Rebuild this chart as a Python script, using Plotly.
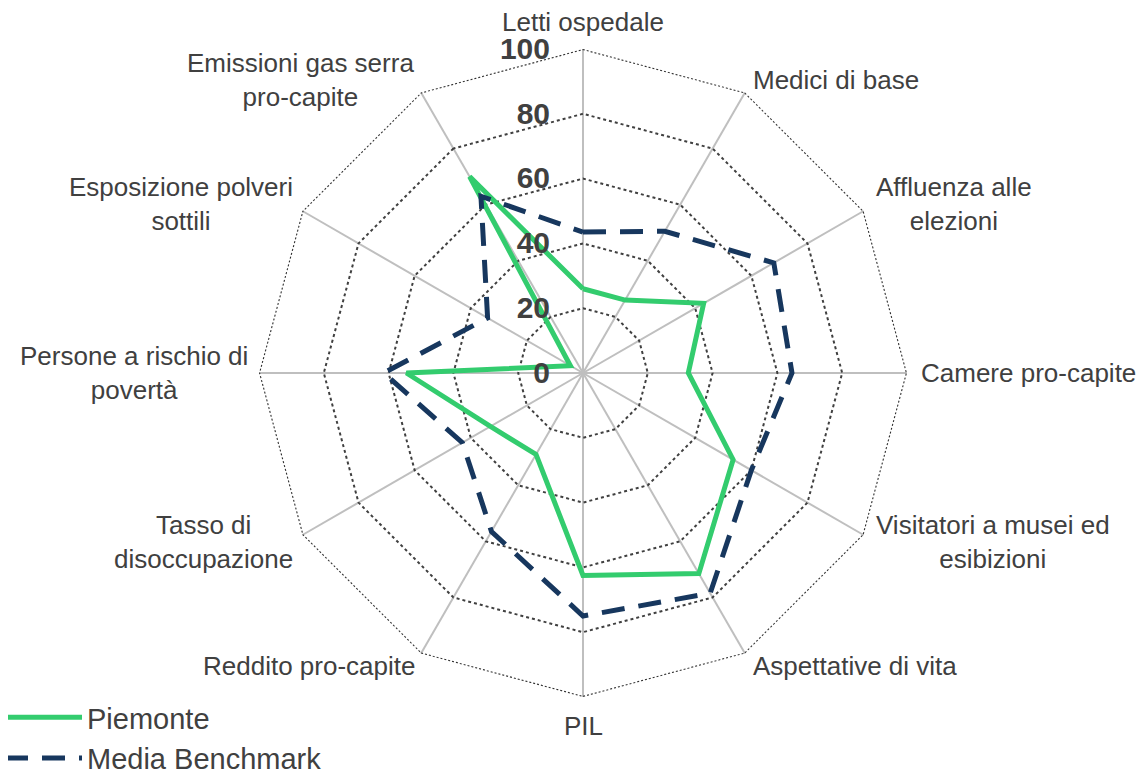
import math
import plotly.graph_objects as go

categories = [
    "Letti ospedale",
    "Medici di base",
    "Affluenza alle<br>elezioni",
    "Camere pro-capite",
    "Visitatori a musei ed<br>esibizioni",
    "Aspettative di vita",
    "PIL",
    "Reddito pro-capite",
    "Tasso di<br>disoccupazione",
    "Persone a rischio di<br>povertà",
    "Esposizione polveri<br>sottili",
    "Emissioni gas serra<br>pro-capite",
]
piemonte = [26, 26, 43, 32.5, 53.5, 71.5, 62.5, 29, 33, 54.5, 4.5, 70]
benchmark = [43.5, 50.5, 68, 64.5, 60, 78.5, 75, 56.5, 43, 61.5, 34, 63]
radial_ticks = [0, 20, 40, 60, 80, 100]

GREEN = "#33CC6E"
NAVY = "#17375E"
TEXT = "#404040"
GRID = "#404040"
FONT = "Liberation Sans, Arial, sans-serif"

# the page body adds an 8px margin, so the figure is drawn 8px smaller and shifted
OFF = 8
W, H = 1145 - OFF, 775 - OFF
CX, CY, RAD = 583 - OFF, 373 - OFF, 324  # pixel geometry of the polar area
RMAX = radial_ticks[-1]

fig = go.Figure()
# outer dotted polygon of the grid (the last radial gridline)
fig.add_trace(go.Scatterpolar(
    r=[RMAX] * (len(categories) + 1), theta=categories + categories[:1],
    mode="lines", showlegend=False, hoverinfo="skip", cliponaxis=False,
    line=dict(color="#303030", width=2.2, dash="2px,2px"),
))
fig.add_trace(go.Scatterpolar(
    r=piemonte + piemonte[:1], theta=categories + categories[:1],
    mode="lines", name="Piemonte",
    line=dict(color=GREEN, width=5),
))
fig.add_trace(go.Scatterpolar(
    r=benchmark + benchmark[:1], theta=categories + categories[:1],
    mode="lines", name="Media Benchmark",
    line=dict(color=NAVY, width=5, dash="23px,14px"),
))

# category labels as centered annotations placed just outside each spoke
annotations = []
n = len(categories)
for i, lab in enumerate(categories):
    th = 2 * math.pi * i / n
    s, c = math.sin(th), math.cos(th)
    px = CX + RAD * s
    py = CY - RAD * c
    if abs(s) < 1e-6:
        xa = "center"
        ya = "bottom" if c > 0 else "top"
        pady = 10 if c > 0 else 12
    else:
        xa = "left" if s > 0 else "right"
        ya = "middle"
        pady = 14
    padx = 12 if s > 0 else 9
    annotations.append(dict(
        x=px / W, y=1 - py / H, xref="paper", yref="paper",
        text=lab, showarrow=False, align="center",
        xanchor=xa, yanchor=ya,
        xshift=padx * s, yshift=pady * c,
        font=dict(size=26, color=TEXT, family=FONT),
    ))

fig.update_layout(
    width=W, height=H,
    paper_bgcolor="white",
    margin=dict(l=0, r=0, t=0, b=0, autoexpand=False),
    font=dict(family=FONT, color=TEXT),
    annotations=annotations,
    polar=dict(
        domain=dict(x=[(CX - RAD) / W, (CX + RAD) / W],
                    y=[1 - (CY + RAD) / H, 1 - (CY - RAD) / H]),
        bgcolor="white",
        gridshape="linear",
        angularaxis=dict(
            direction="clockwise", rotation=90,
            showline=False, ticks="", showticklabels=False,
            gridcolor="#BFBFBF", gridwidth=1.5,
        ),
        radialaxis=dict(
            range=[0, RMAX], tickvals=radial_ticks,
            angle=90, tickangle=90, side="counterclockwise",
            showline=False, ticks="outside", ticklen=22,
            tickcolor="rgba(0,0,0,0)",
            gridcolor=GRID, griddash="dot", gridwidth=1.5,
            tickfont=dict(size=30, color=TEXT, family=FONT, weight="bold"),
        ),
    ),
    showlegend=True,
    legend=dict(
        x=-8 / W, y=1 - 684 / H, xanchor="left", yanchor="top",
        font=dict(size=29, color=TEXT, family=FONT),
        bgcolor="rgba(0,0,0,0)", tracegroupgap=0, itemwidth=77,
    ),
)

fig.write_html("out.html")
